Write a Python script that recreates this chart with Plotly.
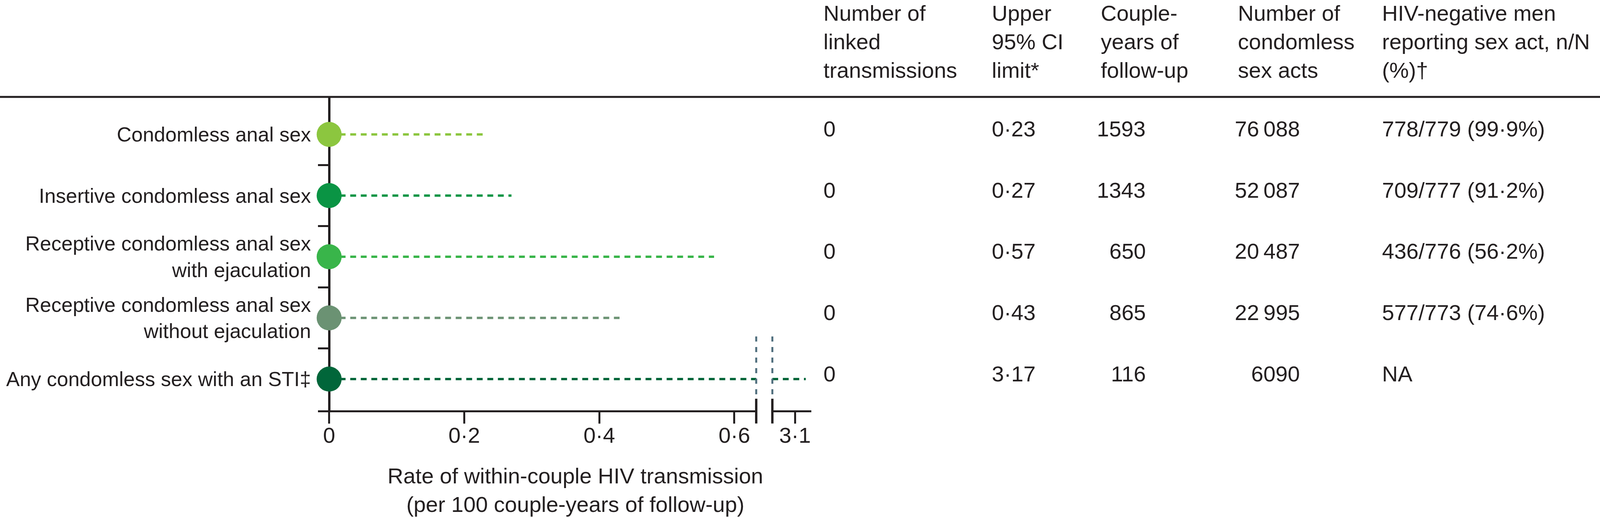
import plotly.graph_objects as go

# rows of the figure, top to bottom
categories = [
    "Condomless anal sex",
    "Insertive condomless anal sex",
    "Receptive condomless anal sex<br>with ejaculation",
    "Receptive condomless anal sex<br>without ejaculation",
    "Any condomless sex with an STI‡",
]
rate = [0, 0, 0, 0, 0]
upper_ci = [0.23, 0.27, 0.57, 0.43, 3.17]
linked = [0, 0, 0, 0, 0]
couple_years = [1593, 1343, 650, 865, 116]
sex_acts = [76088, 52087, 20487, 22995, 6090]
reporting = ["778/779 (99·9%)", "709/777 (91·2%)", "436/776 (56·2%)", "577/773 (74·6%)", "NA"]
colors = ["#8CC63F", "#0A9444", "#39B54A", "#6B9273", "#01663A"]

x_ticks = [0, 0.2, 0.4, 0.6]
x_ticktext = ["0", "0·2", "0·4", "0·6"]
x2_ticks = [3.1]
x2_ticktext = ["3·1"]

headers = [
    "Number of<br>linked<br>transmissions",
    "Upper<br>95% CI<br>limit*",
    "Couple-<br>years of<br>follow-up",
    "Number of<br>condomless<br>sex acts",
    "HIV-negative men<br>reporting sex act, n/N<br>(%)†",
]

W, H = 4166, 1323
FONT = "Liberation Sans, Arial, sans-serif"
INK = "#231F20"
FS = 56
FS_LABEL = 52


def dot(v):
    return f"{v:.2f}".replace(".", "·")


def thousands(n):
    if n >= 10000:
        return f"{n:,}".replace(",", "\u2009")
    return str(n)


rows = list(range(len(categories)))

fig = go.Figure()

# dashed lines from estimate to upper CI limit, on both halves of the broken axis
for xa in ["x", "x2"]:
    for i in rows:
        fig.add_trace(go.Scatter(
            x=[rate[i], upper_ci[i]], y=[i, i], xaxis=xa, yaxis="y",
            mode="lines", line=dict(color=colors[i], width=6, dash="15px,12px"),
            hoverinfo="skip",
        ))

fig.add_trace(go.Scatter(
    x=rate, y=rows, mode="markers", cliponaxis=False,
    marker=dict(color=colors, size=64, line=dict(width=0)),
))

# table to the right of the plot
col_left = [2142, 2580, 2864, 3221, 3596]
columns = [
    ([str(v) for v in linked], "left", col_left[0]),
    ([dot(v) for v in upper_ci], "left", col_left[1]),
    ([str(v) for v in couple_years], "right", 2985),
    ([thousands(v) for v in sex_acts], "right", 3387),
    (reporting, "left", col_left[4]),
]

annotations = []
for h, xl in zip(headers, col_left):
    annotations.append(dict(
        text=h, x=xl / W, y=1.0, xref="paper", yref="paper",
        xanchor="left", yanchor="top", align="left", showarrow=False,
        font=dict(size=FS, color=INK),
    ))
for values, anchor, xpos in columns:
    for i, v in zip(rows, values):
        annotations.append(dict(
            text=v, x=xpos / W, y=i, xref="paper", yref="y",
            xanchor=anchor, yanchor="middle", align=anchor, yshift=14,
            showarrow=False, font=dict(size=FS, color=INK),
        ))

annotations.append(dict(
    text="Rate of within-couple HIV transmission<br>(per 100 couple-years of follow-up)",
    x=1498 / W, y=1 - 1254 / H, xref="paper", yref="paper",
    xanchor="center", yanchor="middle", align="center", showarrow=False,
    font=dict(size=FS, color=INK),
))

axis_style = dict(
    showgrid=False, showline=True, linecolor=INK, linewidth=5,
    ticks="outside", ticklen=29, tickwidth=5, tickcolor=INK,
    tickfont=dict(size=FS, color=INK), tickmode="array", automargin=False,
    ticklabelstandoff=-18,
)

shapes = [
    # header rule
    dict(type="line", xref="paper", yref="y domain", x0=0, x1=1, y0=1, y1=1,
         line=dict(color=INK, width=5)),
]
# axis break marks
for xr, xv in [("x domain", 1), ("x2 domain", 0)]:
    shapes.append(dict(type="line", xref=xr, yref="y domain", x0=xv, x1=xv,
                       y0=-0.042, y1=0.037, line=dict(color=INK, width=6)))
    shapes.append(dict(type="line", xref=xr, yref="y domain", x0=xv, x1=xv,
                       y0=0.051, y1=0.237,
                       line=dict(color="#4E6D7C", width=5, dash="13px,14px")))

fig.update_layout(
    width=W, height=H,
    margin=dict(l=0, r=0, t=0, b=0, pad=0),
    paper_bgcolor="white", plot_bgcolor="white",
    showlegend=False,
    font=dict(family=FONT, size=FS, color=INK),
    xaxis=dict(
        domain=[828 / W, 1969 / W], range=[-0.0165, 0.6324], anchor="y",
        tickvals=x_ticks, ticktext=x_ticktext,
        zeroline=True, zerolinecolor=INK, zerolinewidth=6,
        **axis_style,
    ),
    xaxis2=dict(
        domain=[2011 / W, 2112 / W], range=[2.9525, 3.205], anchor="y",
        tickvals=x2_ticks, ticktext=x2_ticktext, zeroline=False,
        **axis_style,
    ),
    yaxis=dict(
        domain=[1 - 1050 / H, 1 - 248 / H], range=[4.511, -0.613],
        tickmode="array", tickvals=rows, ticktext=categories,
        ticks="", showline=False, showgrid=False, zeroline=False,
        automargin=False,
        tickfont=dict(size=FS_LABEL, color=INK), ticklabelstandoff=17,
        minor=dict(tickmode="array", tickvals=[r + 0.5 for r in rows[:-1]],
                   ticks="inside", ticklen=29, tickwidth=5, tickcolor=INK,
                   showgrid=False),
    ),
    shapes=shapes,
    annotations=annotations,
)

# no body margin; if the visible page is smaller than the figure, fit the figure to it
post = """
document.body.style.margin = '0';
document.body.style.overflow = 'hidden';
var gd = document.getElementById('{plot_id}');
var w = window.innerWidth, h = window.innerHeight;
if (w > 1000 && h > 500 && (w < %d || h < %d)) {
    Plotly.relayout(gd, {width: Math.min(w, %d), height: Math.min(h, %d)});
}
""" % (W, H, W, H)

fig.write_html("out.html", config={"displayModeBar": False}, post_script=post)
